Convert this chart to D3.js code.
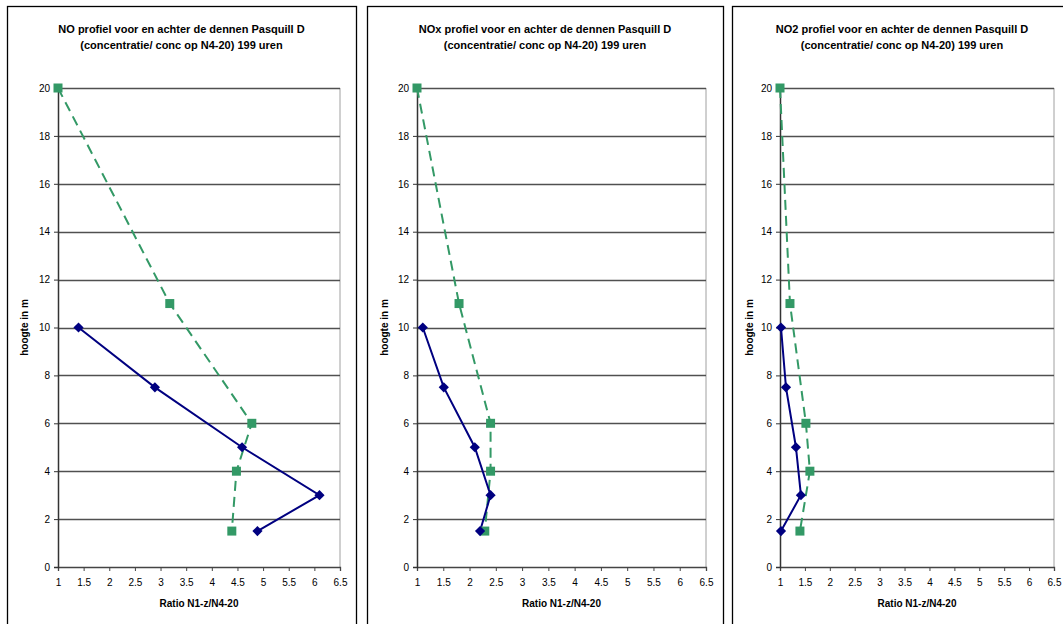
<!DOCTYPE html>
<html>
<head>
<meta charset="utf-8">
<script src="https://cdn.jsdelivr.net/npm/d3@7/dist/d3.min.js"></script>
<style>
  html, body { margin: 0; padding: 0; background: #fff; }
  svg { display: block; }
  text { font-family: "Liberation Sans", Arial, sans-serif; fill: #000; }
</style>
</head>
<body>
<svg id="chart" width="1063" height="624"></svg>
<script>
// ---- Data ----
const titlesLine1 = [
  "NO profiel voor en achter de dennen Pasquill D",
  "NOx profiel voor en achter de dennen Pasquill D",
  "NO2 profiel voor en achter de dennen Pasquill D"
];
const titleLine2 = "(concentratie/ conc op N4-20) 199 uren";
const xLabel = "Ratio N1-z/N4-20";
const yLabel = "hoogte in m";

const heightsBlue = [10, 7.5, 5, 3, 1.5];
const heightsGreen = [20, 11, 6, 4, 1.5];

const noBlue = [1.40, 2.89, 4.59, 6.10, 4.89];
const noGreen = [1.00, 3.18, 4.78, 4.48, 4.39];
const noxBlue = [1.11, 1.51, 2.10, 2.40, 2.20];
const noxGreen = [1.00, 1.80, 2.40, 2.40, 2.29];
const no2Blue = [1.02, 1.12, 1.32, 1.42, 1.02];
const no2Green = [1.00, 1.20, 1.52, 1.60, 1.40];

const xTicks = [1, 1.5, 2, 2.5, 3, 3.5, 4, 4.5, 5, 5.5, 6, 6.5];
const yTicks = [0, 2, 4, 6, 8, 10, 12, 14, 16, 18, 20];

const seriesBlue = [noBlue, noxBlue, no2Blue];
const seriesGreen = [noGreen, noxGreen, no2Green];

// ---- Layout ----
const layouts = [
  { boxL: 7,   boxR: 356,  plotL: 58,  plotR: 340 },
  { boxL: 367, boxR: 723,  plotL: 417, plotR: 706 },
  { boxL: 732, boxR: 1072, plotL: 780, plotR: 1054 }
];
const plotT = 88, plotB = 567, boxT = 6;
const blueColor = "#000080";
const greenColor = "#339966";
const font = "Liberation Sans, Arial, sans-serif";

const svg = d3.select("#chart");

layouts.forEach((L, i) => {
  const g = svg.append("g");

  // panel border
  g.append("rect")
    .attr("x", L.boxL + 0.5).attr("y", boxT + 0.5)
    .attr("width", L.boxR - L.boxL).attr("height", 700)
    .attr("fill", "#fff").attr("stroke", "#000").attr("stroke-width", 1.3);

  const cx = (L.boxL + L.boxR) / 2;
  g.append("text").attr("x", cx).attr("y", 33)
    .attr("text-anchor", "middle").attr("font-size", "11px").attr("font-weight", "bold")
    .text(titlesLine1[i]);
  g.append("text").attr("x", cx).attr("y", 49)
    .attr("text-anchor", "middle").attr("font-size", "11px").attr("font-weight", "bold")
    .text(titleLine2);

  const x = d3.scaleLinear().domain([1, 6.5]).range([L.plotL, L.plotR]);
  const y = d3.scaleLinear().domain([0, 20]).range([plotB, plotT]);

  // plot area right border
  g.append("line")
    .attr("x1", L.plotR).attr("x2", L.plotR).attr("y1", plotT).attr("y2", plotB)
    .attr("stroke", "#a0a0a0").attr("stroke-width", 1);

  // gridlines
  g.append("g").selectAll("line").data(yTicks.filter(d => d > 0)).join("line")
    .attr("x1", L.plotL).attr("x2", L.plotR)
    .attr("y1", d => Math.round(y(d)) + 0.5).attr("y2", d => Math.round(y(d)) + 0.5)
    .attr("stroke", "#505050").attr("stroke-width", 1.3);

  // x axis
  const xAxis = d3.axisBottom(x).tickValues(xTicks).tickSize(4).tickPadding(8)
    .tickFormat(d => String(d));
  const xg = g.append("g").attr("transform", `translate(0,${plotB})`).call(xAxis);
  xg.select(".domain").attr("stroke", "#444").attr("stroke-width", 1.3);
  xg.selectAll(".tick line").attr("stroke", "#444");
  xg.selectAll("text").attr("font-size", "10px").attr("font-family", font).attr("fill", "#000");

  // y axis
  const yAxis = d3.axisLeft(y).tickValues(yTicks).tickSize(4).tickPadding(4)
    .tickFormat(d => String(d));
  const yg = g.append("g").attr("transform", `translate(${L.plotL},0)`).call(yAxis);
  yg.select(".domain").attr("stroke", "#333").attr("stroke-width", 1.5);
  yg.selectAll(".tick line").attr("stroke", "#333");
  yg.selectAll("text").attr("font-size", "10px").attr("font-family", font).attr("fill", "#000");

  // axis titles
  g.append("text")
    .attr("x", (L.plotL + L.plotR) / 2).attr("y", 607)
    .attr("text-anchor", "middle").attr("font-size", "10px").attr("font-weight", "bold")
    .text(xLabel);
  g.append("text")
    .attr("transform", `translate(${L.boxL + 21},${(plotT + plotB) / 2}) rotate(-90)`)
    .attr("text-anchor", "middle").attr("font-size", "10px").attr("font-weight", "bold")
    .text(yLabel);

  // series
  const line = d3.line().x(d => x(d[0])).y(d => y(d[1]));
  const greenData = seriesGreen[i].map((v, k) => [v, heightsGreen[k]]);
  const blueData = seriesBlue[i].map((v, k) => [v, heightsBlue[k]]);

  g.append("path").datum(greenData).attr("d", line)
    .attr("fill", "none").attr("stroke", greenColor).attr("stroke-width", 2)
    .attr("stroke-dasharray", "10,6");
  g.append("path").datum(blueData).attr("d", line)
    .attr("fill", "none").attr("stroke", blueColor).attr("stroke-width", 2);

  g.append("g").selectAll("rect").data(greenData).join("rect")
    .attr("x", d => x(d[0]) - 4.5).attr("y", d => y(d[1]) - 4.5)
    .attr("width", 9).attr("height", 9).attr("fill", greenColor);

  g.append("g").selectAll("path").data(blueData).join("path")
    .attr("transform", d => `translate(${x(d[0])},${y(d[1])}) rotate(45)`)
    .attr("d", d3.symbol().type(d3.symbolSquare).size(52))
    .attr("fill", blueColor);
});
</script>
</body>
</html>
